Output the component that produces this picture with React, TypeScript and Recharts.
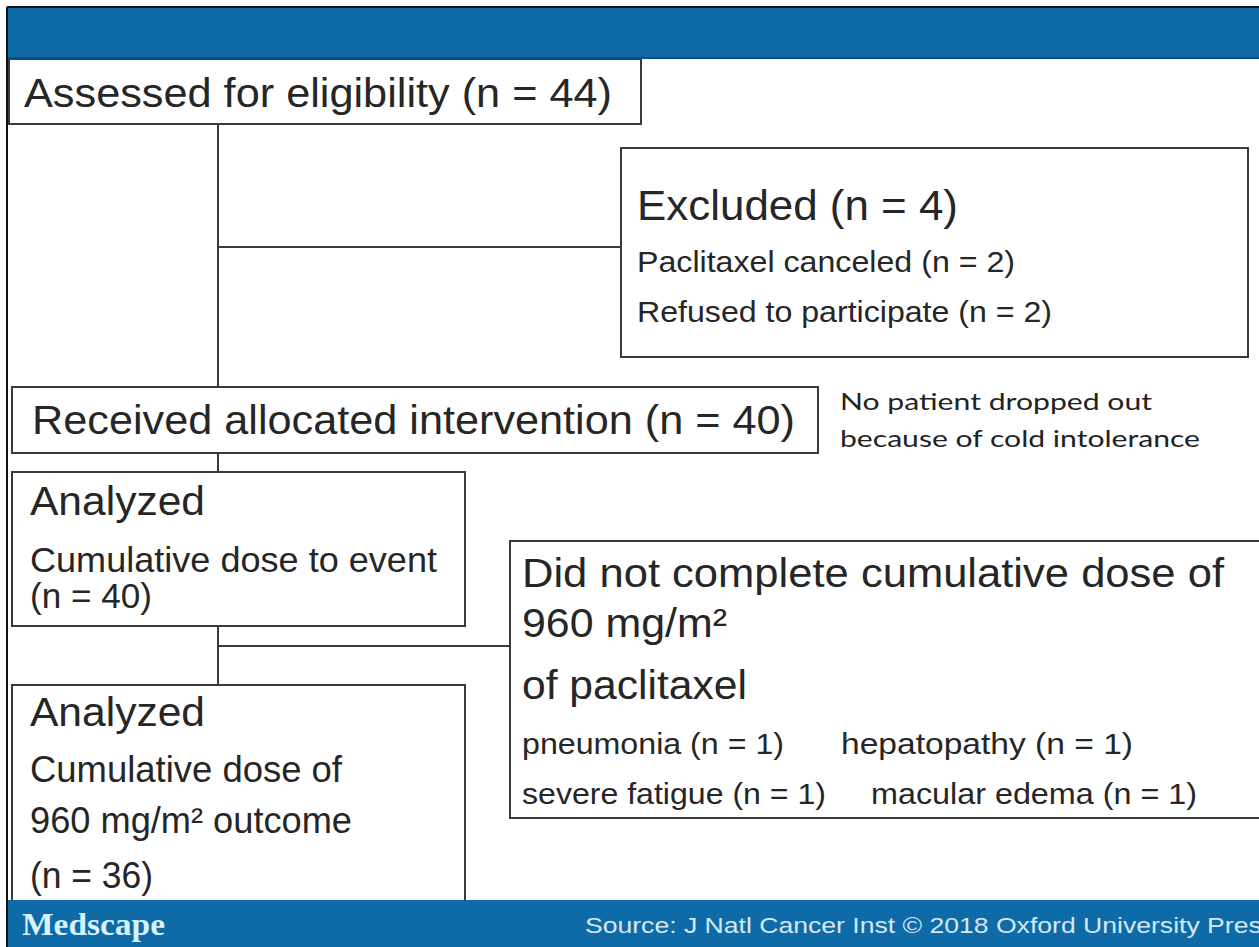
import React from "react";
import { ComposedChart, XAxis, YAxis, ReferenceArea, ReferenceLine } from "recharts";

const W = 1259;
const H = 947;

// flow counts
const stageNames = ["Assessed for eligibility", "Received allocated intervention"];
const stageCounts = [44, 40];
const excludedCount = [4];
const excludedReasons = ["Paclitaxel canceled", "Refused to participate"];
const excludedReasonCounts = [2, 2];
const analyzedCounts = [40, 36];
const incompleteReasons = ["pneumonia", "hepatopathy ", "severe fatigue", "macular edema"];
const incompleteCounts = [1, 1, 1, 1];
const noteLines = ["No patient dropped out", "because of cold intolerance"];
const sourceText = "Source: J Natl Cancer Inst \u00a9 2018 Oxford University Press";

const n = (v: number) => `(n = ${v})`;

const SANS = "'Liberation Sans', Arial, sans-serif";
const INK = "#262626";
const EDGE = "#3a3a3a";
const BLUE = "#0f6aa8";

type Line = { t: string; dx: number; dy: number; size: number; w: number; font?: string; fill?: string; weight?: number };

const textBlock = (lines: Line[]) => (props: any) => {
  const { x, y } = props.viewBox;
  return (
    <g>
      {lines.map((l, i) => (
        <text
          key={i}
          x={x + l.dx}
          y={y + l.dy}
          fontSize={l.size}
          textLength={l.w}
          lengthAdjust="spacingAndGlyphs"
          fontFamily={l.font || SANS}
          fontWeight={l.weight || 400}
          fill={l.fill || INK}
        >
          {l.t}
        </text>
      ))}
    </g>
  );
};

const boxes = [
  {
    key: "assessed", x1: 9, x2: 641, y1: 59, y2: 124,
    lines: [{ t: `${stageNames[0]} ${n(stageCounts[0])}`, dx: 15, dy: 48, size: 40, w: 588 }],
  },
  {
    key: "excluded", x1: 621, x2: 1248, y1: 148, y2: 357,
    lines: [
      { t: `Excluded ${n(excludedCount[0])}`, dx: 16, dy: 72, size: 42, w: 321 },
      { t: `${excludedReasons[0]} ${n(excludedReasonCounts[0])}`, dx: 16, dy: 124, size: 30, w: 378 },
      { t: `${excludedReasons[1]} ${n(excludedReasonCounts[1])}`, dx: 16, dy: 174, size: 30, w: 415 },
    ],
  },
  {
    key: "received", x1: 12, x2: 818, y1: 387, y2: 453,
    lines: [{ t: `${stageNames[1]} ${n(stageCounts[1])}`, dx: 20, dy: 47, size: 40, w: 763 }],
  },
  {
    key: "analyzedEvent", x1: 12, x2: 465, y1: 472, y2: 626,
    lines: [
      { t: "Analyzed", dx: 18, dy: 43, size: 40, w: 175 },
      { t: "Cumulative dose to event", dx: 18, dy: 100, size: 35, w: 407 },
      { t: n(analyzedCounts[0]), dx: 18, dy: 136, size: 35, w: 122 },
    ],
  },
  {
    key: "incomplete", x1: 510, x2: 1264, y1: 541, y2: 818,
    lines: [
      { t: "Did not complete cumulative dose of", dx: 12, dy: 46, size: 40, w: 702 },
      { t: "960 mg/m\u00b2", dx: 12, dy: 96, size: 40, w: 205 },
      { t: "of paclitaxel", dx: 12, dy: 158, size: 40, w: 225 },
      { t: `${incompleteReasons[0]} ${n(incompleteCounts[0])}`, dx: 12, dy: 213, size: 29, w: 262 },
      { t: `${incompleteReasons[1]} ${n(incompleteCounts[1])}`, dx: 331, dy: 213, size: 29, w: 292 },
      { t: `${incompleteReasons[2]} ${n(incompleteCounts[2])}`, dx: 12, dy: 263, size: 29, w: 304 },
      { t: `${incompleteReasons[3]} ${n(incompleteCounts[3])}`, dx: 361, dy: 263, size: 29, w: 326 },
    ],
  },
  {
    key: "analyzedDose", x1: 12, x2: 465, y1: 685, y2: 915,
    lines: [
      { t: "Analyzed", dx: 18, dy: 41, size: 40, w: 175 },
      { t: "Cumulative dose of", dx: 18, dy: 97, size: 36, w: 312 },
      { t: "960 mg/m\u00b2 outcome", dx: 18, dy: 148, size: 36, w: 322 },
      { t: n(analyzedCounts[1]), dx: 18, dy: 203, size: 36, w: 123 },
    ],
  },
];

const connectors = [
  [{ x: 218, y: 124 }, { x: 218, y: 387 }],
  [{ x: 218, y: 247 }, { x: 621, y: 247 }],
  [{ x: 218, y: 453 }, { x: 218, y: 472 }],
  [{ x: 218, y: 626 }, { x: 218, y: 685 }],
  [{ x: 218, y: 646 }, { x: 510, y: 646 }],
];

export default function App() {
  return (
    <div style={{ position: "absolute", left: 0, top: 0, width: W, height: H, background: "#fff" }}>
      <ComposedChart width={W} height={H} data={[]} margin={{ top: 0, right: 0, bottom: 0, left: 0 }}>
        <XAxis type="number" dataKey="x" domain={[0, W]} allowDataOverflow hide />
        <YAxis type="number" dataKey="y" domain={[0, H]} allowDataOverflow reversed hide />

        {/* header band */}
        <ReferenceArea x1={7} x2={W} y1={7} y2={58} fill={BLUE} fillOpacity={1} stroke="none" ifOverflow="visible" />
        <ReferenceLine segment={[{ x: 7, y: 58 }, { x: W, y: 58 }]} stroke="#0a4f80" strokeWidth={2} ifOverflow="visible" />

        {connectors.map((seg, i) => (
          <ReferenceLine key={i} segment={seg} stroke={EDGE} strokeWidth={2} ifOverflow="visible" />
        ))}

        {boxes.map((b) => (
          <ReferenceArea
            key={b.key}
            x1={b.x1}
            x2={b.x2}
            y1={b.y1}
            y2={b.y2}
            fill="#ffffff"
            fillOpacity={1}
            stroke={EDGE}
            strokeWidth={2}
            ifOverflow="visible"
            label={textBlock(b.lines)}
          />
        ))}

        {/* side note */}
        <ReferenceArea
          x1={830}
          x2={1250}
          y1={380}
          y2={462}
          fill="none"
          stroke="none"
          ifOverflow="visible"
          label={textBlock([
            { t: noteLines[0], dx: 10, dy: 30, size: 24, w: 312, font: "Lato, 'Open Sans', sans-serif", fill: "#222" },
            { t: noteLines[1], dx: 10, dy: 67, size: 24, w: 360, font: "Lato, 'Open Sans', sans-serif", fill: "#222" },
          ])}
        />

        {/* footer band */}
        <ReferenceArea
          x1={7}
          x2={W}
          y1={900}
          y2={H}
          fill={BLUE}
          fillOpacity={1}
          stroke="none"
          ifOverflow="visible"
          label={textBlock([
            { t: "Medscape", dx: 15, dy: 35, size: 31, w: 143, font: "'Liberation Serif', 'DejaVu Serif', serif", fill: "#d6f3ff", weight: 700 },
            { t: sourceText, dx: 578, dy: 33, size: 22, w: 690, fill: "#d3e8f5" },
          ])}
        />

        {/* outer frame */}
        <ReferenceLine segment={[{ x: 7, y: 7 }, { x: W, y: 7 }]} stroke="#111" strokeWidth={2} ifOverflow="visible" />
        <ReferenceLine segment={[{ x: 7, y: 7 }, { x: 7, y: H }]} stroke="#111" strokeWidth={2} ifOverflow="visible" />
      </ComposedChart>
    </div>
  );
}
